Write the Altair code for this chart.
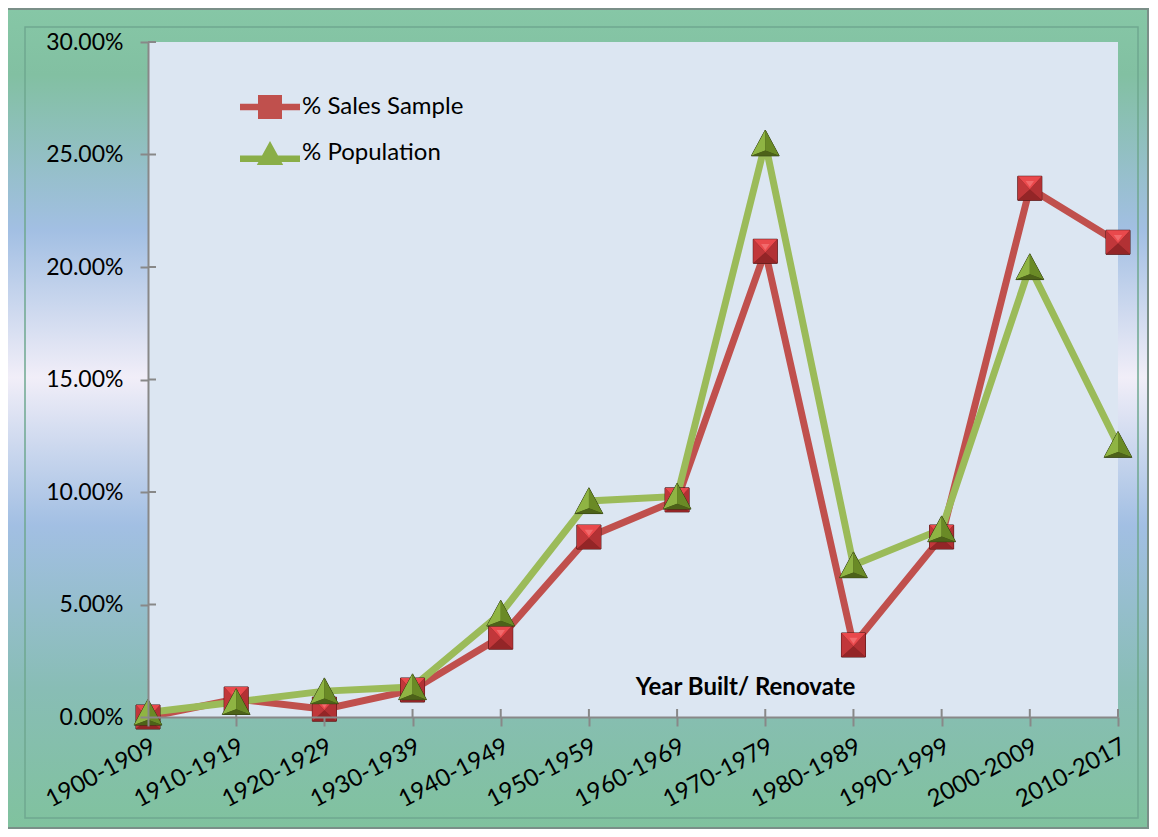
import altair as alt
import pandas as pd

categories = ["1900-1909", "1910-1919", "1920-1929", "1930-1939", "1940-1949",
              "1950-1959", "1960-1969", "1970-1979", "1980-1989", "1990-1999",
              "2000-2009", "2010-2017"]
sales_sample = [0.0, 0.8, 0.35, 1.2, 3.55, 8.0, 9.65, 20.7, 3.2, 8.0, 23.5, 21.1]
population = [0.2, 0.67, 1.15, 1.33, 4.6, 9.6, 9.8, 25.5, 6.75, 8.35, 20.0, 12.1]
series_names = ["% Sales Sample", "% Population"]
y_ticks = [0, 5, 10, 15, 20, 25, 30]

W, H = 970, 675
FONT = "Lato"

rows = []
for c, v in zip(categories, sales_sample):
    rows.append({"cat": c, "series": series_names[0], "val": v / 100})
for c, v in zip(categories, population):
    rows.append({"cat": c, "series": series_names[1], "val": v / 100})
df = pd.DataFrame(rows)

x_scale = alt.Scale(type="point", domain=categories, padding=0)
y_scale = alt.Scale(domain=[0, 0.30], nice=False)

x_enc = alt.X("cat:N", sort=categories, scale=x_scale,
              axis=alt.Axis(title="Year Built/ Renovate", titleX=597, titleY=-18,
                            titleFontWeight="bold", titleFontSize=24, titleFont=FONT,
                            titleColor="#000000", titleAlign="center", titleBaseline="bottom",
                            labelAngle=-28, labelAlign="right", labelBaseline="top",
                            labelPadding=8, labelFontSize=24, labelFont=FONT, labelColor="#000000",
                            tickSize=9, tickColor="#888888", tickWidth=2,
                            domainColor="#888888", domainWidth=2, grid=False, zindex=2,
                            labelOverlap=False, labelLimit=0))
y_enc = alt.Y("val:Q", scale=y_scale,
              axis=alt.Axis(title=None, values=[t / 100 for t in y_ticks], format=".2%",
                            labelFontSize=23, labelFont=FONT, labelColor="#000000",
                            labelPadding=17, tickSize=8, tickColor="#888888", tickWidth=2,
                            domainColor="#888888", domainWidth=2, grid=False, zindex=2))

base = alt.Chart(df)

# frame with vertical gradient
frame_grad = {"gradient": "linear", "x1": 0, "y1": 0, "x2": 0, "y2": 1,
              "stops": [{"offset": 0.0, "color": "#86c7a6"},
                        {"offset": 0.08, "color": "#82c0a2"},
                        {"offset": 0.27, "color": "#a2bfe3"},
                        {"offset": 0.45, "color": "#f1eef8"},
                        {"offset": 0.63, "color": "#a2bfe3"},
                        {"offset": 0.83, "color": "#88bdb5"},
                        {"offset": 1.0, "color": "#80c29e"}]}
one = pd.DataFrame({"k": [0]})
frame = alt.Chart(one).mark_rect(
    clip=False, color=frame_grad, stroke="#7a8f88", strokeWidth=2
).encode(x=alt.value(-142), x2=alt.value(W + 30), y=alt.value(-33), y2=alt.value(H + 111))
inner = alt.Chart(one).mark_rect(
    clip=False, fillOpacity=0, stroke="#6fa890", strokeWidth=1.5
).encode(x=alt.value(-123), x2=alt.value(W + 20), y=alt.value(-15), y2=alt.value(H + 101))
plotbg = alt.Chart(one).mark_rect(color="#dce6f2").encode(
    x=alt.value(0), x2=alt.value(W), y=alt.value(0), y2=alt.value(H))

# inner halves of the crossing ticks
xticks_in = alt.Chart(pd.DataFrame({"cat": categories})).mark_rule(
    color="#888888", strokeWidth=2).encode(
    x=alt.X("cat:N", sort=categories, scale=x_scale),
    y=alt.value(H - 8), y2=alt.value(H))
yticks_in = alt.Chart(pd.DataFrame({"val": [t / 100 for t in y_ticks]})).mark_rule(
    color="#888888", strokeWidth=2).encode(
    y=alt.Y("val:Q", scale=y_scale),
    x=alt.value(0), x2=alt.value(8))

colors = {"% Sales Sample": "#c0504d", "% Population": "#9bbb59"}

def line_layer(name):
    return base.transform_filter(alt.datum.series == name).mark_line(
        color=colors[name], strokeWidth=7, strokeJoin="miter", strokeCap="butt"
    ).encode(x=x_enc, y=y_enc)

SQ = "M-1,-1L1,-1L1,1L-1,1Z"
sq_faces = [
    (SQ, "#8e2426"),
    ("M-1,-1L1,-1L0,0.1Z", "#e9494c"),
    ("M-1,-1L0,0.1L-1,1Z", "#c1373a"),
    ("M1,-1L0,0.1L1,1Z", "#b23134"),
    ("M-1,1L0,0.1L1,1Z", "#932527"),
    ("M-0.35,-0.6L0.35,-0.6L0,-0.1Z", "#f26a6c"),
]
TRI = "M0,-1L1.05,0.95L-1.05,0.95Z"
tri_faces = [
    (TRI, "#3e4f16"),
    ("M0,-1L-1.05,0.95L0,0.55Z", "#8fb443"),
    ("M0,-1L1.05,0.95L0,0.55Z", "#6a8a26"),
    ("M-1.05,0.95L0,0.55L1.05,0.95Z", "#4d6219"),
]

def marker_layers(name, faces, size):
    out = []
    for i, (path, fill) in enumerate(faces):
        out.append(base.transform_filter(alt.datum.series == name).mark_point(
            shape=path, filled=True, fill=fill, opacity=1, size=size,
            stroke="#4a1010" if (i == 0 and name == series_names[0]) else ("#2e3a10" if i == 0 else None),
            strokeWidth=1 if i == 0 else 0
        ).encode(x=x_enc, y=y_enc))
    return out

# legend symbols: line + marker composite path
LEG_SALES = "M-2.5,-0.28L2.5,-0.28L2.5,0.28L-2.5,0.28Z M-1,-1L1,-1L1,1L-1,1Z"
LEG_POP = "M-2.5,0.2L2.5,0.2L2.5,0.75L-2.5,0.75Z M0,-1L1.1,1L-1.1,1Z"
leg_kw = dict(title=None, orient="none", legendX=110, legendY=53,
              symbolSize=576, symbolOpacity=1, symbolStrokeWidth=0,
              labelFont=FONT, labelFontSize=24, labelColor="#000000",
              labelOffset=20, rowPadding=22, direction="vertical", labelLimit=0)
legend_layer = base.mark_point(filled=True, opacity=0).encode(
    x=x_enc, y=y_enc,
    color=alt.Color("series:N", sort=series_names,
                    scale=alt.Scale(domain=series_names, range=["#c0504d", "#8aae48"]),
                    legend=alt.Legend(**leg_kw)),
    shape=alt.Shape("series:N", sort=series_names,
                    scale=alt.Scale(domain=series_names, range=[LEG_SALES, LEG_POP]),
                    legend=alt.Legend(**leg_kw)),
)

layers = [frame, inner, plotbg, xticks_in, yticks_in,
          line_layer(series_names[0]), line_layer(series_names[1])]
layers += marker_layers(series_names[0], sq_faces, 576)
layers += marker_layers(series_names[1], tri_faces, 700)
layers.append(legend_layer)

chart = alt.layer(*layers).properties(
    width=W, height=H,
    autosize=alt.AutoSizeParams(type="none"),
    padding={"left": 140, "top": 34, "right": 32, "bottom": 112},
    background="#ffffff",
).configure_view(stroke=None)

chart.save("out.html", embed_options={"renderer": "svg", "actions": False})
